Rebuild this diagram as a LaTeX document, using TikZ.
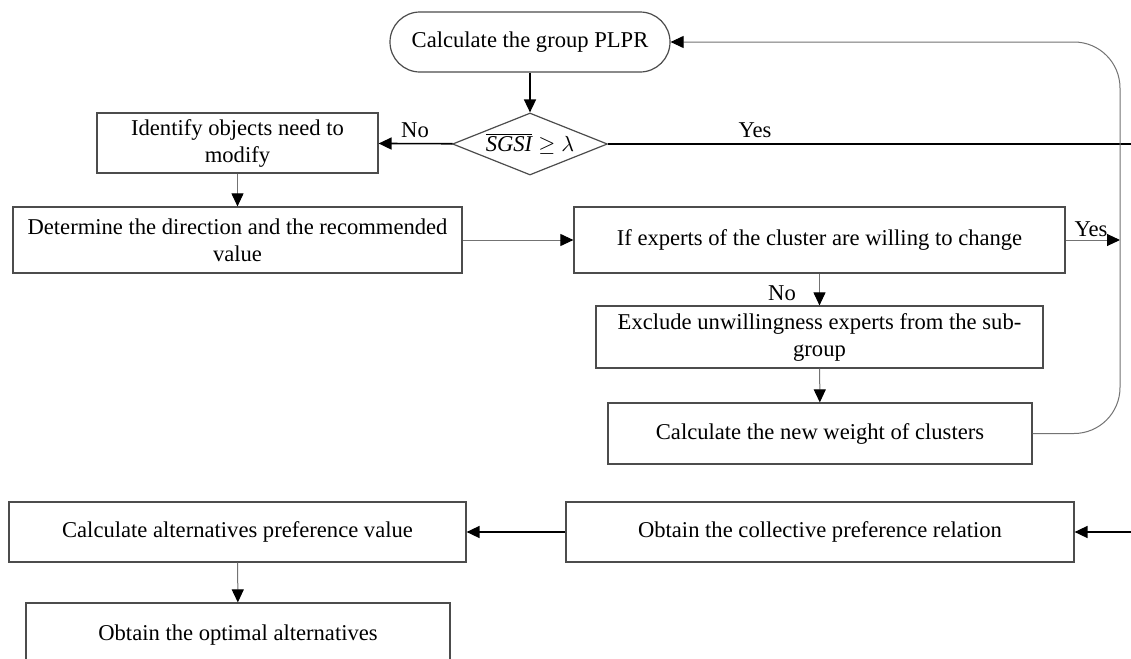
\documentclass[tikz,border=0pt]{standalone}
\usepackage{fontspec}
\setmainfont{Liberation Serif}
\usetikzlibrary{arrows.meta,shapes.geometric}

\begin{document}
\begin{tikzpicture}[x=0.5pt,y=-0.5pt,
        box/.style={draw=black!70,line width=0.6pt,fill=white,align=center,inner sep=1pt,
            font=\fontsize{11.3}{13.5}\selectfont},
        lbl/.style={font=\fontsize{11.3}{13}\selectfont,inner sep=0pt},
        arr/.style={-{Triangle[length=6.5pt,width=6pt,color=black]}},
        heavy/.style={arr,line width=0.8pt,black},
        light/.style={arr,line width=0.5pt,black!55}]
    \clip (0,0) rectangle (1131,659);
    \fill[white] (0,0) rectangle (1131,659);
    \node[box,rounded corners=15pt,minimum width=140pt,minimum height=30pt] (plpr) at (530,42) {Calculate the group PLPR};
    \node[box,diamond,shape aspect=2.5,inner sep=0pt,minimum width=77.5pt,minimum height=31pt] (chk) at (530,144) {$\overline{\textit{SGSI}}\geq\lambda$};
    \node[box,minimum width=140.5pt,minimum height=30pt] (ident) at (237.5,143) {Identify objects need to\\modify};
    \node[box,minimum width=224.5pt,minimum height=33pt] (determ) at (237.5,240) {Determine the direction and the recommended\\value};
    \node[box,minimum width=245.5pt,minimum height=33pt] (willing) at (819.5,240) {If experts of the cluster are willing to change};
    \node[box,minimum width=223.5pt,minimum height=31pt] (excl) at (819.5,337) {Exclude unwillingness experts from the sub-\\group};
    \node[box,minimum width=212pt,minimum height=30.5pt] (weight) at (820,433.5) {Calculate the new weight of clusters};
    \node[box,minimum width=254pt,minimum height=30pt] (coll) at (820,532) {Obtain the collective preference relation};
    \node[box,minimum width=228.5pt,minimum height=30pt] (pref) at (237.5,532) {Calculate alternatives preference value};
    \node[box,minimum width=212pt,minimum height=32pt] (optim) at (238,635) {Obtain the optimal alternatives};
    \coordinate (fbx) at (1120,0);
    \coordinate (yesend) at (1131,144);
    \coordinate (collin) at (1131,532);
    \draw[heavy] (plpr) -- (chk);
    \draw[heavy] (chk) -- (ident);
    \draw[line width=0.8pt] (chk) -- (yesend);
    \draw[light] (ident) -- (determ);
    \draw[light] (determ) -- (willing);
    \draw[light] (willing) -- (excl);
    \draw[light] (excl) -- (weight);
    \draw[light] (willing.east) -- (willing.east -| fbx);
    \draw[light,rounded corners=23pt] (weight.east) -- (weight.east -| fbx) -- (fbx |- plpr.east) -- (plpr.east);
    \draw[heavy] (collin) -- (coll);
    \draw[heavy] (coll) -- (pref);
    \draw[light] (pref) -- (optim);
    \node[lbl] at (415,130) {No};
    \node[lbl] at (755,130) {Yes};
    \node[lbl] at (782,293) {No};
    \node[lbl] at (1091,229) {Yes};
\end{tikzpicture}
\end{document}
